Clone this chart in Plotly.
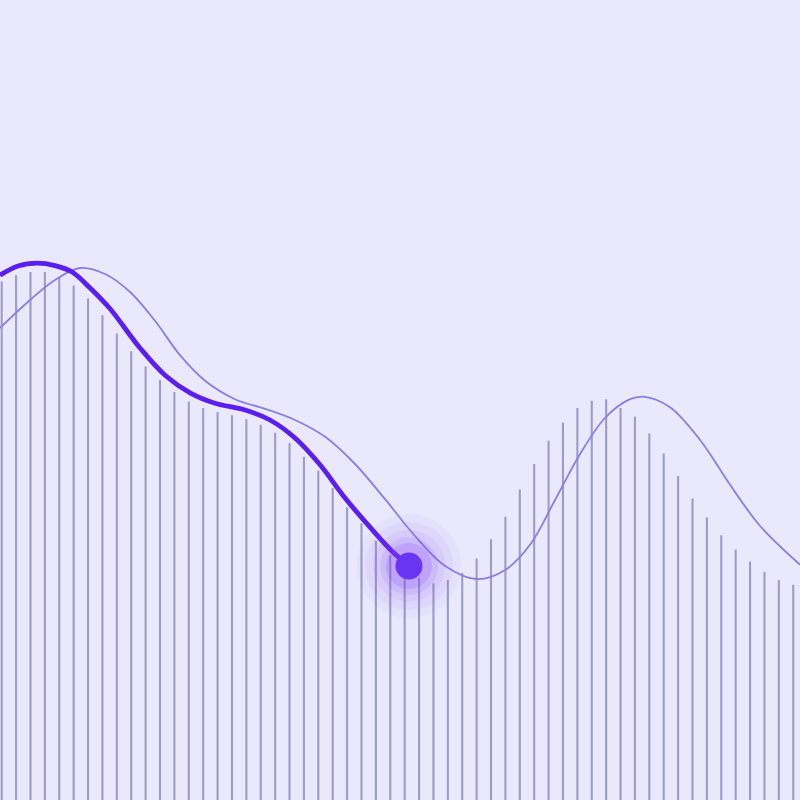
import plotly.graph_objects as go

# -------------------------------
# DATA
# -------------------------------

# vertical bar heights, one per step (0..55)
bar_values = [64.8, 65.6, 66.0, 66.0, 65.4, 64.3, 62.7, 60.6, 58.3, 56.1,
              54.2, 52.5, 51.0, 49.8, 49.0, 48.5, 48.1, 47.6, 46.9, 45.9,
              44.6, 42.9, 41.2, 39.0, 36.6, 34.6, 32.4, 30.6, 29.0, 27.8,
              27.1, 27.5, 28.4, 30.2, 32.6, 35.4, 38.8, 42.0, 44.9, 47.2,
              49.0, 49.9, 50.1, 49.0, 47.9, 45.8, 43.3, 40.5, 37.7, 35.3,
              33.1, 31.3, 29.8, 28.5, 27.5, 26.9]
bar_steps = list(range(len(bar_values)))

# thin reference curve (x in steps)
thin_x = [-0.12, 1.97, 3.70, 5.44, 7.18, 8.92, 10.65, 12.39, 14.13, 16.21,
          18.30, 20.38, 22.47, 24.55, 26.64, 28.72, 30.81, 33.03, 34.98, 36.71,
          38.45, 40.19, 41.92, 43.66, 44.70, 46.44, 48.53, 50.61, 52.70, 55.48]
thin_y = [59.0, 62.5, 65.0, 66.5, 65.75, 63.5, 59.9, 55.6, 52.4, 50.1,
          48.9, 47.5, 45.4, 42.0, 37.6, 33.0, 29.25, 27.6, 28.75, 31.9,
          37.5, 43.25, 47.75, 50.1, 50.4, 49.1, 45.0, 39.4, 34.25, 29.4]

# thick highlighted curve (ends at the current point)
thick_x = [-0.12, 1.13, 2.45, 3.70, 4.89, 6.14, 7.53, 9.61, 11.35, 13.09,
           14.82, 16.91, 18.64, 20.38, 22.12, 23.86, 25.59, 27.12, 28.30]
thick_y = [65.6, 66.75, 67.1, 66.8, 66.0, 64.0, 61.4, 56.5, 53.1, 50.9,
           49.6, 48.75, 47.5, 45.25, 41.9, 37.75, 34.1, 31.1, 29.25]

# -------------------------------
# FIGURE
# -------------------------------

fig = go.Figure()

# bars drawn as thin vertical strokes from 0 up to each value
stem_x, stem_y = [], []
for step, val in zip(bar_steps, bar_values):
    stem_x += [step, step, None]
    stem_y += [0, val, None]

fig.add_trace(go.Scatter(
    x=stem_x, y=stem_y,
    mode='lines',
    line=dict(color='#9d9bc8', width=2.1),
    hoverinfo='skip'
))

# thin curve
fig.add_trace(go.Scatter(
    x=thin_x, y=thin_y,
    mode='lines',
    line=dict(color='#8a7ee2', width=1.8, shape='spline', smoothing=1.0),
    hoverinfo='skip'
))

# thick curve
fig.add_trace(go.Scatter(
    x=thick_x, y=thick_y,
    mode='lines',
    line=dict(color='#5b1ef0', width=4.8, shape='spline', smoothing=1.0),
    hoverinfo='skip'
))

# glow around the last point
end_x = [thick_x[-1]]
end_y = [thick_y[-1]]
for size, alpha in [(104, 0.04), (88, 0.06), (72, 0.08), (58, 0.12), (46, 0.2)]:
    fig.add_trace(go.Scatter(
        x=end_x, y=end_y,
        mode='markers',
        marker=dict(size=size, color='rgba(135,70,245,%s)' % alpha, line=dict(width=0)),
        hoverinfo='skip'
    ))

# dot
fig.add_trace(go.Scatter(
    x=end_x, y=end_y,
    mode='markers',
    marker=dict(size=27, color='#6a35f2', line=dict(width=0)),
    hoverinfo='skip'
))

# -------------------------------
# LAYOUT
# -------------------------------

fig.update_layout(
    width=800,
    height=800,
    margin=dict(l=0, r=0, t=0, b=0),
    paper_bgcolor='#e9e8fc',
    plot_bgcolor='#e9e8fc',
    showlegend=False,
    hovermode=False,
    xaxis=dict(range=[-0.118, 55.47], visible=False, fixedrange=True),
    yaxis=dict(range=[0, 100], visible=False, fixedrange=True),
)

# drop the default page margin so the chart fills the window
fig.write_html(
    "out.html",
    config={'displayModeBar': False},
    post_script="document.body.style.margin='0';"
)
